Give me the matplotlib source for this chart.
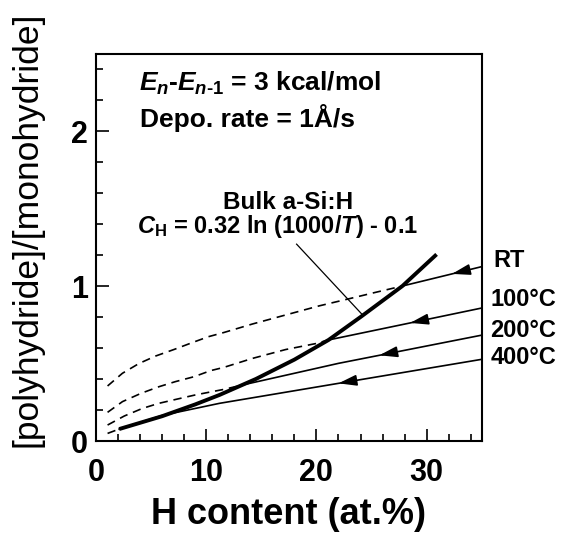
import numpy as np
import matplotlib
matplotlib.use('Agg')
import matplotlib.pyplot as plt
from matplotlib.ticker import MultipleLocator

plt.rcParams['font.family'] = ['Liberation Sans', 'DejaVu Sans']
plt.rcParams['mathtext.fontset'] = 'custom'
plt.rcParams['mathtext.rm'] = 'Liberation Sans:bold'
plt.rcParams['mathtext.it'] = 'Liberation Sans:italic:bold'
plt.rcParams['mathtext.bf'] = 'Liberation Sans:bold'

# bulk a-Si:H curve
bulk_x = [2.1, 6.0, 9.0, 11.2, 14.5, 18.0, 21.1, 24.1, 27.8, 30.9]
bulk_y = [0.077, 0.16, 0.236, 0.297, 0.40, 0.525, 0.652, 0.805, 1.0, 1.204]

temps = ['RT', '100°C', '200°C', '400°C']

# dashed parts (left of the bulk curve)
rt_dash_x = [1.05, 2.4, 3.9, 5.4, 7.1, 8.7, 10.2, 11.6, 14.2, 17.2, 20.2, 22.8, 25.3, 27.8]
rt_dash_y = [0.355, 0.437, 0.50, 0.548, 0.591, 0.634, 0.673, 0.70, 0.755, 0.813, 0.871, 0.915, 0.958, 1.0]
t100_dash_x = [1.05, 2.4, 4.1, 5.7, 7.2, 8.9, 10.4, 11.6, 14.2, 17.2, 19.9, 21.1]
t100_dash_y = [0.185, 0.254, 0.308, 0.35, 0.383, 0.415, 0.454, 0.475, 0.533, 0.59, 0.628, 0.652]
t200_dash_x = [1.05, 2.56, 4.2, 5.7, 7.4, 9.0, 10.5, 11.6, 13.2]
t200_dash_y = [0.103, 0.161, 0.21, 0.243, 0.271, 0.297, 0.318, 0.333, 0.36]
t400_dash_x = [1.05, 2.1]
t400_dash_y = [0.049, 0.077]

# solid parts (right of the bulk curve)
rt_solid_x = [27.8, 35.0]
rt_solid_y = [1.0, 1.125]
t100_solid_x = [21.1, 35.0]
t100_solid_y = [0.652, 0.858]
t200_solid_x = [13.2, 22.0, 35.0]
t200_solid_y = [0.36, 0.501, 0.683]
t400_solid_x = [2.1, 6.0, 11.2, 22.0, 35.0]
t400_solid_y = [0.077, 0.165, 0.243, 0.372, 0.527]

# arrow tip positions along the solid lines
arrow_x = [32.3, 28.5, 25.7, 22.0]

dash_x = [rt_dash_x, t100_dash_x, t200_dash_x, t400_dash_x]
dash_y = [rt_dash_y, t100_dash_y, t200_dash_y, t400_dash_y]
solid_x = [rt_solid_x, t100_solid_x, t200_solid_x, t400_solid_x]
solid_y = [rt_solid_y, t100_solid_y, t200_solid_y, t400_solid_y]

fig = plt.figure(figsize=(5.69, 5.33), dpi=100)
ax = fig.add_axes([0.1687, 0.1726, 0.678, 0.727])

for i in range(len(temps)):
    ax.plot(dash_x[i], dash_y[i], color='k', lw=1.2, dashes=(5, 3.5))
    ax.plot(solid_x[i], solid_y[i], color='k', lw=1.2)
    xt = arrow_x[i]
    yt = np.interp(xt, solid_x[i], solid_y[i])
    xs = xt + 1.4
    ys = np.interp(xs, solid_x[i], solid_y[i])
    ax.annotate('', xy=(xt, yt), xytext=(xs, ys),
                arrowprops=dict(arrowstyle='-|>,head_length=1.1,head_width=0.33',
                                mutation_scale=10, color='k', lw=1.2,
                                shrinkA=0, shrinkB=0))

ax.plot(bulk_x, bulk_y, color='k', lw=2.8, solid_capstyle='butt')

# pointer from formula to bulk curve
ax.plot([18.2, 24.1], [1.27, 0.82], color='k', lw=0.9)

ax.set_xlim(0, 35)
ax.set_ylim(0, 2.5)
ax.xaxis.set_major_locator(MultipleLocator(10))
ax.xaxis.set_minor_locator(MultipleLocator(2))
ax.yaxis.set_major_locator(MultipleLocator(1))
ax.yaxis.set_minor_locator(MultipleLocator(0.2))
ax.tick_params(which='both', direction='in', width=1.2)
ax.tick_params(which='major', length=9)
ax.tick_params(which='minor', length=5)
ax.tick_params(axis='x', which='major', pad=12, labelsize=22)
ax.tick_params(axis='y', which='major', pad=6, labelsize=22)
for lab in ax.get_xticklabels() + ax.get_yticklabels():
    lab.set_fontweight('bold')
for s in ax.spines.values():
    s.set_linewidth(1.5)

ax.set_xlabel('H content (at.%)', fontsize=26, fontweight='bold', labelpad=7)
ax.set_ylabel('[polyhydride]/[monohydride]', fontsize=25.5)
ax.yaxis.set_label_coords(-0.135, 0.547)

ax.text(3.9, 2.26, r'$E_n$-$E_{n\text{-}1}$ = 3 kcal/mol', fontsize=19, fontweight='bold')
ax.text(3.95, 2.025, 'Depo. rate = 1Å/s', fontsize=19, fontweight='bold')
ax.text(17.4, 1.495, 'Bulk a-Si:H', fontsize=17.5, fontweight='bold', ha='center')
ax.text(3.7, 1.345, r'$C_{\mathrm{H}}$ = 0.32 ln (1000/$T$) - 0.1', fontsize=17, fontweight='bold')

label_x = [36.04, 35.8, 35.75, 35.8]
label_y = [1.125, 0.871, 0.673, 0.497]
for i in range(len(temps)):
    ax.text(label_x[i], label_y[i], temps[i], fontsize=17, fontweight='bold',
            clip_on=False)

fig.savefig('out.png', dpi=100)
